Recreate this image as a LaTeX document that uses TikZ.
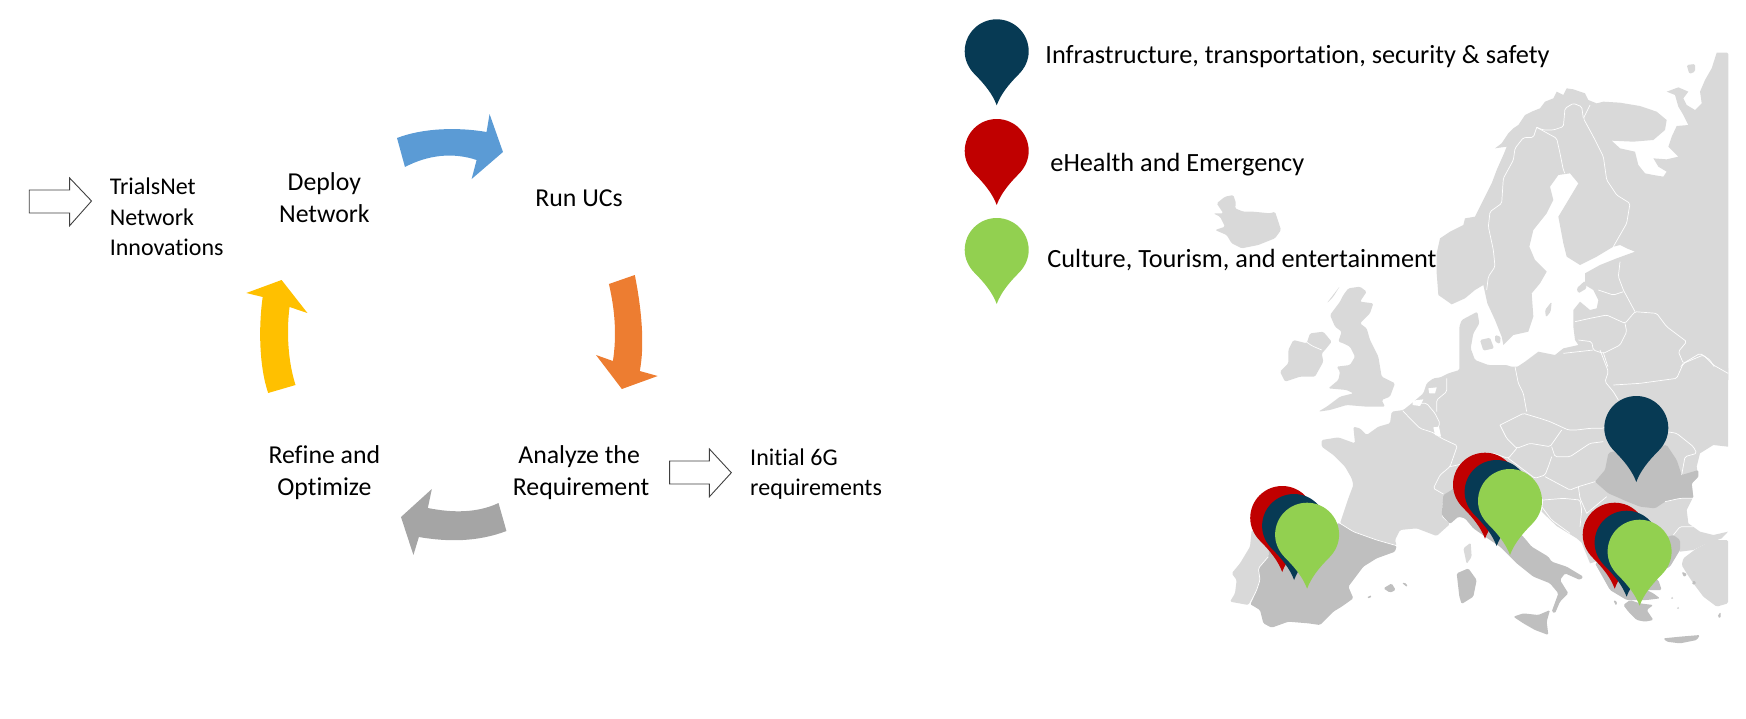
\documentclass[tikz,border=0pt]{standalone}
\usepackage{fontspec}
\setmainfont{Carlito}[Ligatures=CommonOff]
\definecolor{landL}{HTML}{D9D9D9}
\definecolor{landD}{HTML}{BFBFBF}
\definecolor{navyP}{HTML}{073A54}
\definecolor{redP}{HTML}{C00000}
\definecolor{greenP}{HTML}{92D050}
\definecolor{arB}{HTML}{5B9BD5}
\definecolor{arO}{HTML}{ED7D31}
\definecolor{arG}{HTML}{A5A5A5}
\definecolor{arY}{HTML}{FFC000}
\tikzset{
  lab/.style={font=\fontsize{12.9}{15.3}\selectfont,inner sep=0pt,text=black},
  small/.style={font=\fontsize{12}{14}\selectfont,inner sep=0pt,text=black,anchor=base west},
  leg/.style={font=\fontsize{13.15}{15.3}\selectfont,inner sep=0pt,text=black,anchor=base west},
  hollow/.style={draw=black!75,line width=0.45pt,fill=white},
  bord/.style={draw=white,line width=0.35pt,line join=round,rounded corners=0.8pt},
  coastL/.style={fill=landL,rounded corners=0.7pt},
  coastD/.style={fill=landD,rounded corners=0.7pt},
  frameF/.style={shift={(1400,40)},x=0.166667pt,y=-0.166667pt},
  frameU/.style={shift={(1200,180)},x=0.166667pt,y=-0.166667pt},
  frameW/.style={shift={(1220,380)},x=0.166667pt,y=-0.166667pt},
  frameE/.style={shift={(1480,350)},x=0.166667pt,y=-0.166667pt}
}
\newcommand{\mappin}[3]{%
  \fill[#3,shift={(#1,#2+32)}] (0,54) .. controls (-4,43) and (-12,33) .. (-22,23)
    .. controls (-28,17) and (-32,9) .. (-32,0)
    .. controls (-32,-17.7) and (-17.7,-32) .. (0,-32)
    .. controls (17.7,-32) and (32,-17.7) .. (32,0)
    .. controls (32,9) and (28,17) .. (22,23)
    .. controls (12,33) and (4,43) .. (0,54) -- cycle;}
\begin{document}
\begin{tikzpicture}[x=0.5pt,y=-0.5pt]
\useasboundingbox (0,0) rectangle (1746,718);
% ---- map: north
\begin{scope}[frameF]
\fill[coastL] (950,38) -- (985,38) [sharp corners] -- (985,1020) -- (350,1030) -- (345,985) -- (375,965) -- (415,935) -- (465,945) -- (490,925) -- (535,915) -- (525,900) -- (520,860) -- (520,810) -- (540,785) -- (570,810) -- (590,805) -- (595,780) -- (580,750) -- (555,735) -- (555,700) -- (600,675) -- (650,655) -- (705,635) -- (680,625) -- (660,615) -- (640,620) -- (590,650) -- (540,675) -- (500,650) -- (490,610) -- (475,530) -- (505,480) -- (535,430) -- (510,400) -- (475,405) -- (450,440) -- (460,480) -- (440,520) -- (400,570) -- (388,620) -- (405,660) -- (440,695) -- (420,730) -- (395,760) -- (400,830) -- (385,875) -- (340,885) -- (310,915) -- (305,890) -- (285,840) -- (262,790) -- (250,735) -- (225,750) -- (195,775) -- (155,793) -- (115,765) -- (110,700) -- (110,640) -- (120,595) -- (150,575) -- (190,555) -- (195,535) -- (225,530) -- (250,480) -- (275,430) -- (290,390) -- (310,345) -- (320,320) -- (285,325) -- (305,310) -- (325,280) -- (340,265) -- (355,255) -- (375,225) -- (395,215) -- (420,205) -- (435,185) -- (460,175) -- (470,155) -- (490,165) -- (500,145) -- (520,148) -- (555,160) -- (565,180) -- (590,190) -- (610,185) -- (660,188) -- (720,198) -- (770,215) -- (800,240) -- (795,270) -- (760,300) -- (700,305) -- (635,302) -- (660,325) -- (705,335) -- (715,375) -- (735,400) -- (760,405) -- (790,410) -- (800,395) -- (775,380) -- (760,355) -- (800,358) -- (835,350) -- (805,320) -- (815,290) -- (830,258) -- (865,255) -- (850,225) -- (835,200) -- (825,165) -- (800,155) -- (835,142) -- (865,155) -- (850,175) -- (860,195) -- (885,210) -- (905,190) -- (900,155) -- (915,120) -- (935,85) -- cycle;
\fill[coastL] (860,75) -- (885,72) -- (885,95) -- (868,102) -- cycle;
\fill[coastL] (455,785) -- (452,815) -- (438,832) -- (435,810) -- cycle;
\fill[coastL] (530,745) -- (555,722) -- (560,745) -- (535,760) -- cycle;
% Denmark and north Germany
\fill[coastL] (178,990) -- (178,860) -- (185,840) -- (232,815) -- (238,850) -- (220,880) -- (212,925) -- (225,960) -- (265,975) -- (320,975) -- (345,985) -- (352,1040) -- (100,1040) -- (105,1020) -- (145,1000) -- cycle;
\fill[coastL] (240,900) -- (270,893) -- (282,925) -- (250,932) -- cycle;
\fill[coastL] (285,885) -- (302,890) -- (300,912) -- (285,905) -- cycle;
\draw[bord] (410,262) -- (400,292) -- (370,293) -- (345,325) -- (340,360) -- (310,415) -- (305,490) -- (270,515) -- (265,560) -- (280,630) -- (285,680) -- (265,710) -- (260,750);
\draw[bord] (410,262) -- (430,270) -- (460,270) -- (490,260) -- (495,205) -- (520,190) -- (545,200) -- (550,235);
\draw[bord] (410,262) -- (470,295) -- (480,340) -- (490,390) -- (495,400);
\draw[bord] (570,195) -- (550,235) -- (580,290) -- (610,350) -- (620,420) -- (650,465) -- (690,490) -- (680,550) -- (640,620);
\draw[bord] (660,665) -- (655,710) -- (670,750) -- (705,815);
\draw[bord] (595,750) -- (640,765) -- (670,755);
\draw[bord] (525,845) -- (570,835) -- (620,825) -- (675,850) -- (705,815) -- (770,820) -- (800,860) -- (860,905) -- (835,935) -- (850,970) -- (900,940) -- (930,960) -- (945,985) -- (985,1000);
\draw[bord] (675,850) -- (680,875) -- (660,915) -- (610,940) -- (580,930) -- (575,905) -- (535,900);
\draw[bord] (490,940) -- (580,930);
\draw[bord] (610,938) -- (630,1000) -- (620,1030);
\draw[bord] (850,970) -- (828,1000) -- (825,1030);
\end{scope}
% ---- British Isles and Iceland
\begin{scope}[frameU]
\fill[coastL] (50,70) -- (75,50) -- (100,45) -- (108,70) -- (105,85) -- (130,95) -- (160,95) -- (210,100) -- (225,95) -- (235,125) -- (243,150) -- (225,175) -- (175,195) -- (125,205) -- (95,190) -- (80,165) -- (45,150) -- (75,140) -- (60,110) -- (40,100) -- (70,100) -- (60,85) -- cycle;
\fill[coastL] (445,325) -- (480,320) -- (500,335) -- (480,365) -- (520,370) -- (510,400) -- (480,430) -- (500,445) -- (510,480) -- (535,530) -- (545,590) -- (585,610) -- (570,650) -- (545,660) -- (555,680) -- (500,680) -- (440,675) -- (390,690) -- (355,695) -- (380,680) -- (420,650) -- (460,640) -- (440,630) -- (385,625) -- (415,600) -- (420,575) -- (410,560) -- (450,555) -- (465,530) -- (450,500) -- (430,490) -- (415,485) -- (425,455) -- (405,440) -- (390,405) -- (420,365) -- (430,345) -- cycle;
\fill[coastL] (240,575) -- (265,550) -- (265,510) -- (280,480) -- (320,490) -- (330,460) -- (370,455) -- (395,485) -- (375,510) -- (365,520) -- (370,545) -- (345,590) -- (300,590) -- (255,605) -- cycle;
\fill[coastL] (380,370) -- (420,318) -- (400,350) -- cycle;
\draw[bord] (318,485) -- (335,497) -- (365,510);
\end{scope}
% ---- West Europe
\begin{scope}[frameW]
\fill[coastL] (640,-5) -- (690,-12) -- (880,-12) -- (900,350) -- (670,345) -- (665,410) -- (690,432) -- (650,468) -- (590,445) -- (540,450) -- (525,480) -- (530,497) -- (470,480) -- (400,455) -- (360,430) -- (385,355) -- (400,315) -- (395,295) -- (375,260) -- (340,225) -- (305,200) -- (305,180) -- (355,172) -- (405,190) -- (400,140) -- (420,145) -- (440,165) -- (475,140) -- (510,130) -- (515,95) -- (550,90) -- (575,70) -- (610,40) -- (620,10) -- cycle;
\fill[white] (625,25) -- (650,22) -- (645,40) -- (628,40) -- cycle;
\fill[white] (578,62) -- (610,58) -- (600,78) -- (578,75) -- cycle;
% Portugal and Spain
\fill[coastL] (95,450) -- (90,500) -- (60,550) -- (35,580) -- (50,600) -- (45,640) -- (30,665) -- (85,675) -- (110,630) -- (120,600) -- (115,565) -- (145,530) -- (150,480) -- cycle;
\fill[coastD] (95,450) -- (360,430) -- (400,455) -- (470,480) -- (530,497) -- (525,515) -- (470,535) -- (430,560) -- (385,620) -- (400,655) -- (365,680) -- (340,695) -- (300,735) -- (265,730) -- (205,725) -- (155,743) -- (130,730) -- (120,690) -- (90,672) -- (110,630) -- (120,600) -- (115,565) -- (145,530) -- (150,480) -- cycle;
\fill[coastD] (490,625) -- (515,610) -- (527,630) -- (510,638) -- cycle;
\fill[coastD] (545,608) -- (560,610) -- (562,622) -- cycle;
\fill[coastD] (440,652) -- (455,645) -- (450,656) -- cycle;
\fill[coastL] (730,505) -- (752,488) -- (755,530) -- (740,552) -- cycle;
\fill[coastD] (710,580) -- (745,565) -- (770,600) -- (760,650) -- (725,672) -- (718,650) -- cycle;
\draw[bord] (360,430) -- (400,455) -- (470,480) -- (530,497);
\draw[bord] (90,672) -- (110,630) -- (120,600) -- (115,565) -- (145,530);
\draw[bord] (548,92) -- (565,110) -- (600,145) -- (640,158) -- (665,175) -- (712,197) -- (690,260) -- (660,285) -- (640,325) -- (670,342);
\draw[bord] (690,260) -- (780,240);
\draw[bord] (580,70) -- (620,70) -- (645,100) -- (660,130) -- (650,150);
\draw[bord] (680,-5) -- (680,35) -- (650,60) -- (650,95);
\fill[white] (640,142) -- (657,140) -- (663,170) -- (645,165) -- cycle;
\end{scope}
% ---- East Europe
\begin{scope}[frameE]
\fill[coastL] (100,50) -- (744,50) [sharp corners] -- (744,290) -- (700,285) -- (660,310) -- (650,350) -- (655,380) -- (635,400) -- (640,440) -- (620,480) -- (625,520) -- (660,545) -- (700,555) -- (744,545) -- (725,565) -- (670,585) -- (640,600) -- (600,605) -- (580,575) -- (400,620) -- (330,640) -- (305,578) -- (290,565) -- (230,528) -- (185,485) -- (190,450) -- (150,400) -- (90,350) -- (90,50) -- cycle;
\fill[coastL] (744,570) -- (700,570) -- (650,595) -- (610,625) -- (605,645) -- (620,670) -- (640,700) -- (670,740) -- (710,770) -- (744,760) -- cycle;
% Romania
\fill[coastD] (395,305) -- (470,300) -- (560,285) -- (590,330) -- (605,375) -- (655,360) -- (655,380) -- (635,400) -- (640,445) -- (600,445) -- (555,455) -- (525,475) -- (480,470) -- (430,450) -- (420,445) -- (385,430) -- (345,395) -- (375,360) -- (385,310) -- cycle;
% Italy
\fill[coastD] (-110,435) -- (-85,420) -- (-40,380) -- (60,390) -- (110,395) -- (60,430) -- (60,500) -- (130,560) -- (155,590) -- (205,620) -- (215,635) -- (260,650) -- (310,680) -- (300,690) -- (255,670) -- (240,690) -- (265,730) -- (240,755) -- (225,790) -- (215,785) -- (235,730) -- (210,700) -- (160,680) -- (110,640) -- (60,590) -- (30,570) -- (-20,535) -- (-45,505) -- (-65,500) -- (-90,522) -- (-115,495) -- cycle;
\fill[coastD] (100,800) -- (130,790) -- (175,795) -- (210,780) -- (200,815) -- (205,855) -- (165,840) -- (130,820) -- cycle;
% Greece
\fill[coastD] (345,640) -- (400,610) -- (580,555) -- (600,570) -- (600,600) -- (570,650) -- (510,680) -- (535,690) -- (545,720) -- (500,720) -- (520,730) -- (540,745) -- (500,750) -- (440,750) -- (390,720) -- cycle;
\fill[coastD] (430,765) -- (450,750) -- (480,760) -- (520,765) -- (500,780) -- (520,810) -- (495,815) -- (470,810) -- (445,785) -- cycle;
\fill[coastD] (550,865) -- (600,860) -- (660,855) -- (650,870) -- (600,880) -- (560,875) -- cycle;
\fill[coastD] (400,750) -- (412,755) -- (408,768) -- cycle;
\fill[coastD] (605,665) -- (622,672) -- (612,682) -- cycle;
\fill[coastD] (640,690) -- (650,700) -- (636,705) -- cycle;
\fill[coastD] (712,800) -- (722,785) -- (722,805) -- cycle;
\fill[coastL] (572,740) -- (582,742) -- (575,750) -- cycle;
\fill[coastL] (590,770) -- (600,772) -- (592,780) -- cycle;
% borders
\draw[bord] (105,50) -- (115,100) -- (130,130) -- (140,185);
\draw[bord] (60,225) -- (130,190) -- (180,205) -- (210,215) -- (265,240) -- (290,240) -- (330,235) -- (370,235) -- (400,215);
\draw[bord] (60,225) -- (80,265) -- (110,295) -- (150,280) -- (210,290) -- (245,240);
\draw[bord] (215,290) -- (225,320) -- (270,320) -- (330,280) -- (370,275);
\draw[bord] (110,295) -- (85,325) -- (40,310);
\draw[bord] (85,325) -- (165,385) -- (195,375) -- (205,350) -- (215,320);
\draw[bord] (195,380) -- (270,420) -- (295,410) -- (345,395);
\draw[bord] (295,410) -- (300,445) -- (320,490);
\draw[bord] (190,450) -- (250,445) -- (300,450) -- (305,480) -- (300,530);
\draw[bord] (185,470) -- (215,510) -- (270,550);
\draw[bord] (320,490) -- (380,440);
\draw[bord] (360,0) -- (385,65) -- (375,95) -- (400,125) -- (415,150);
\draw[bord] (400,105) -- (480,100) -- (590,85) -- (610,40) -- (670,15) -- (700,45) -- (744,70);
\draw[bord] (560,245) -- (590,250) -- (640,290) -- (650,310) -- (615,320) -- (605,375);
\draw[bord] (555,455) -- (600,445) -- (640,445);
\draw[bord] (580,555) -- (600,530) -- (640,530);
\end{scope}
% ---- cycle
\begin{scope}[xscale=0.995]
\fill[arB] (399,138) .. controls (425,128) and (460,127) .. (489,132) -- (492,114) -- (505.5,152) -- (474,179) -- (479,160) .. controls (455,152) and (430,155) .. (407,167) -- cycle;
\fill[arO] (612,284) -- (638,275) .. controls (645,310) and (648,345) .. (643,371) -- (661,376) -- (625,389) -- (599,355) -- (616,361) .. controls (620,335) and (618,310) .. (612,284) -- cycle;
\fill[arG] (501,503) -- (509,531) .. controls (480,542) and (450,542) .. (421,537) -- (415.5,555) -- (403,517) -- (434,489) -- (430,508) .. controls (455,513) and (480,513) .. (501,503) -- cycle;
\fill[arY] (269.5,393) -- (297,385) .. controls (289,360) and (288,330) .. (291,307) -- (309,313) -- (283,280) -- (247.5,293) -- (264,297) .. controls (260,325) and (260,365) .. (269.5,393) -- cycle;
\draw[hollow] (29.4,190) -- (70,190) -- (70,178) -- (92,201) -- (70,225.7) -- (70,213) -- (29.4,213) -- cycle;
\draw[hollow] (673,461) -- (713,461) -- (713,449) -- (735,472.7) -- (713,496.7) -- (713,484) -- (673,484) -- cycle;
\node[lab,anchor=base] (deploy1) at (326,190) {Deploy};
\node[lab,anchor=base] (deploy2) at (326,222) {Network};
\node[lab,anchor=base] (run) at (582,206) {Run UCs};
\node[lab,anchor=base] (an1) at (582,463) {Analyze the};
\node[lab,anchor=base] (an2) at (584,495) {Requirement};
\node[lab,anchor=base] (re1) at (326,463) {Refine and};
\node[lab,anchor=base] (re2) at (326,495) {Optimize};
\node[small] (tn1) at (110,194) {TrialsNet};
\node[small] (tn2) at (110,225) {Network};
\node[small] (tn3) at (110,255) {Innovations};
\node[small] (in1) at (753.6,465) {Initial 6G};
\node[small] (in2) at (753.6,495) {requirements};
\end{scope}
% ---- legend
\node[leg] (l1) at (1045,63) {Infrastructure, transportation, security \& safety};
\node[leg] (l2) at (1050,171) {eHealth and Emergency};
\node[leg] (l3) at (1047,267) {Culture, Tourism, and entertainment};
\mappin{996.7}{19.3}{navyP}
\mappin{996.7}{119}{redP}
\mappin{996.7}{218}{greenP}
% ---- map pins
\mappin{1636.3}{396}{navyP}
\mappin{1282.2}{486}{redP}
\mappin{1294.1}{494}{navyP}
\mappin{1307.1}{502.7}{greenP}
\mappin{1485}{452.7}{redP}
\mappin{1496.6}{460}{navyP}
\mappin{1510}{469}{greenP}
\mappin{1614.7}{502.7}{redP}
\mappin{1626.6}{510.7}{navyP}
\mappin{1639.6}{519.7}{greenP}
\end{tikzpicture}
\end{document}
